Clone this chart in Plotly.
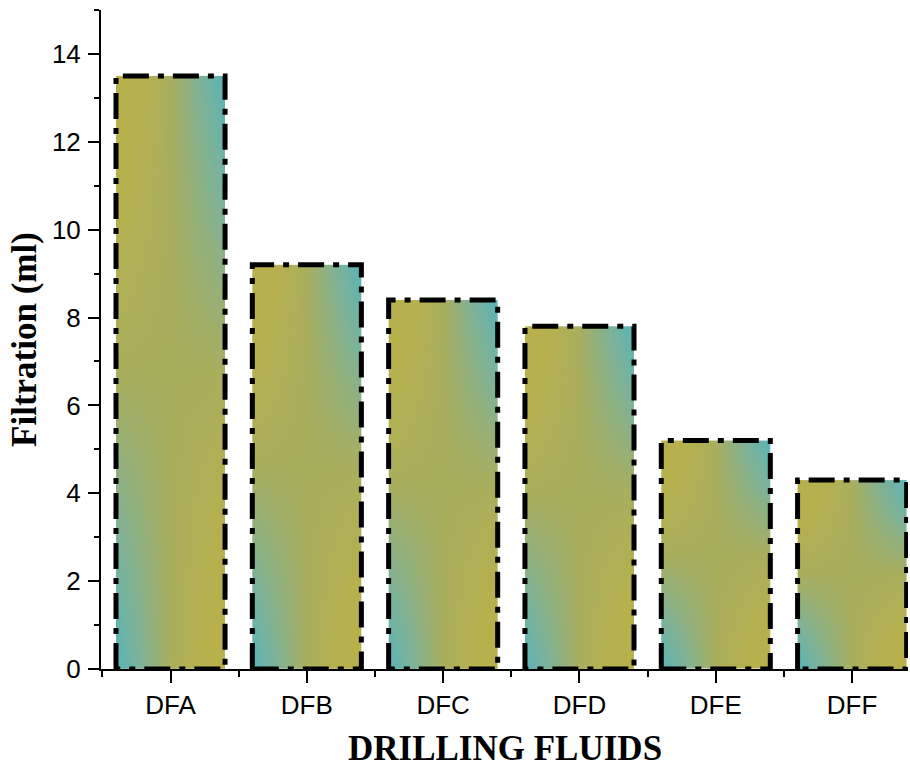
import numpy as np
import plotly.graph_objects as go

categories = ["DFA", "DFB", "DFC", "DFD", "DFE", "DFF"]
filtration = [13.5, 9.2, 8.4, 7.8, 5.2, 4.3]
y_ticks = [0, 2, 4, 6, 8, 10, 12, 14]

BAR_W = 0.8
colorscale = [[0, "#B8B04B"], [0.25, "#B6B04E"], [0.5, "#A9AE5D"],
              [0.75, "#80B294"], [1, "#57B4BB"]]

fig = go.Figure()

nx, ny = 50, 120
for i, (cat, v) in enumerate(zip(categories, filtration)):
    xe = np.linspace(i - BAR_W / 2, i + BAR_W / 2, nx + 1)
    ye = np.linspace(0, v, ny + 1)
    u = (np.arange(nx) + 0.5) / nx            # left -> right
    w = 1 - (np.arange(ny) + 0.5) / ny        # top -> bottom (rows bottom first)
    U, W = np.meshgrid(u, w)
    z = U * (1 - W) + (1 - U) * W             # TL/BR yellow, TR/BL teal
    fig.add_trace(go.Heatmap(x=xe, y=ye, z=z, colorscale=colorscale, zmin=0, zmax=1,
                             showscale=False, hoverinfo="skip", zsmooth=False))
    fig.add_trace(go.Scatter(
        x=[i - BAR_W / 2, i - BAR_W / 2, i + BAR_W / 2, i + BAR_W / 2, i - BAR_W / 2],
        y=[0, v, v, 0, 0], mode="lines",
        line=dict(color="black", width=5, dash="26px,9px,6px,9px"),
        name=cat, showlegend=False, hoverinfo="skip"))

tick_font = dict(family="Liberation Sans, Arial, sans-serif", size=26, color="black")
title_font = dict(family="Liberation Serif, Times New Roman, serif", size=35, color="black")

common = dict(showline=True, linecolor="black", linewidth=2, showgrid=False, zeroline=False,
              tickwidth=2, tickcolor="black", automargin=False)

fig.update_layout(
    width=910, height=767,
    margin=dict(l=101, r=2, t=10, b=98),
    plot_bgcolor="white", paper_bgcolor="white",
    showlegend=False,
    xaxis=dict(
        range=[-0.51, 5.41], tickmode="array", tickvals=list(range(len(categories))),
        ticktext=categories, ticks="outside", ticklen=12,
        minor=dict(tick0=0.5, dtick=1, ticks="outside", ticklen=6, tickwidth=2, tickcolor="black"),
        tickfont=tick_font, ticklabelstandoff=0,
        **common,
    ),
    yaxis=dict(
        range=[0, 15], tickmode="array", tickvals=y_ticks,
        ticks="outside", ticklen=11,
        minor=dict(tick0=0, dtick=1, ticks="outside", ticklen=5, tickwidth=2, tickcolor="black"),
        tickfont=tick_font, ticklabelstandoff=2,
        title=dict(text="<b>Filtration (ml)</b>", font=title_font, standoff=5),
        **common,
    ),
    xaxis2=dict(
        overlaying="x", side="top", anchor="y", range=[-0.51, 5.41],
        tickmode="array", tickvals=list(range(len(categories))), showticklabels=False,
        ticks="inside", ticklen=12,
        minor=dict(tick0=0.5, dtick=1, ticks="inside", ticklen=6, tickwidth=2, tickcolor="black"),
        **common,
    ),
    yaxis2=dict(
        overlaying="y", side="right", anchor="x", range=[0, 15],
        tickmode="array", tickvals=y_ticks, showticklabels=False,
        ticks="inside", ticklen=11,
        minor=dict(tick0=0, dtick=1, ticks="inside", ticklen=5, tickwidth=2, tickcolor="black"),
        **common,
    ),
    annotations=[dict(text="<b>DRILLING FLUIDS</b>", font=title_font, showarrow=False,
                      xref="paper", yref="paper", x=0.5, y=0, xanchor="center",
                      yanchor="top", yshift=-58)],
)

fig.write_html("out.html")
